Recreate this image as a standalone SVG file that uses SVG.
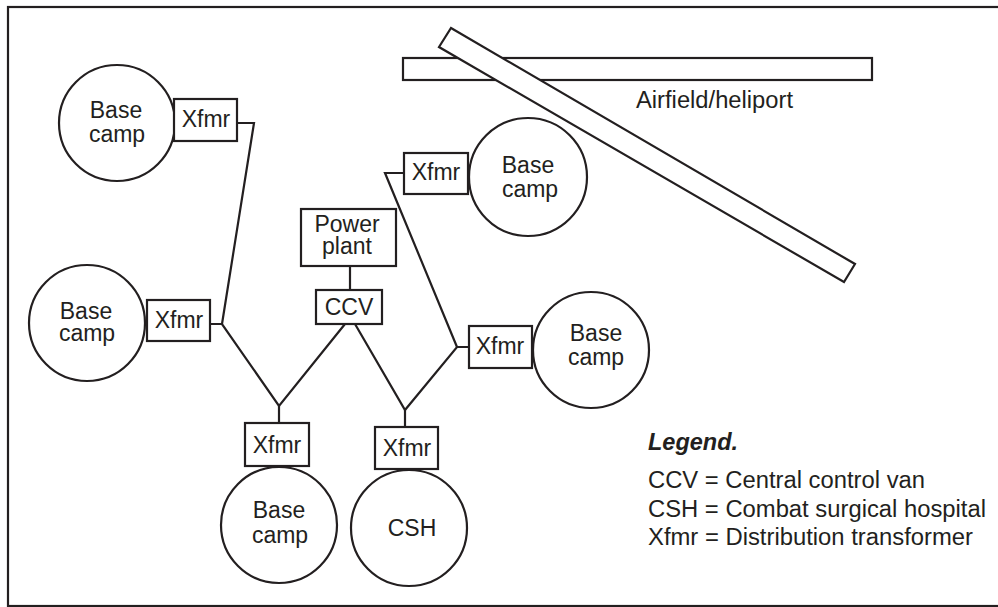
<svg xmlns="http://www.w3.org/2000/svg" width="998" height="607" viewBox="0 0 998 607">
  <style>
    .shape { fill: #ffffff; stroke: #231f20; stroke-width: 2.2; }
    .wire { fill: none; stroke: #231f20; stroke-width: 2.2; stroke-linejoin: miter; }
    text { font-family: "Liberation Sans", Arial, Helvetica, sans-serif; font-size: 23px; fill: #231f20; }
    .mid { text-anchor: middle; }
    .legend-title { font-weight: bold; font-style: italic; }
  </style>

  <rect width="998" height="607" fill="#ffffff"/>
  <!-- outer frame (right side runs off the page) -->
  <rect x="8" y="7" width="1000" height="599" fill="none" stroke="#231f20" stroke-width="2.2"/>

  <!-- runways -->
  <g id="airfield">
    <rect class="shape" x="403" y="58" width="469" height="22"/>
    <polygon class="shape" points="451,28 855,264 844,282 439,47"/>
    <text x="636" y="108" textLength="157" lengthAdjust="spacingAndGlyphs">Airfield/heliport</text>
  </g>

  <!-- distribution lines -->
  <g id="connectors">
    <polyline class="wire" points="237,123 254,123 222,324"/>
    <polyline class="wire" points="210,324 222,324 279,406 345,324"/>
    <line class="wire" x1="279" y1="406" x2="279" y2="423"/>
    <line class="wire" x1="350" y1="266" x2="350" y2="290"/>
    <polyline class="wire" points="355,324 405,410 457,347 469,347"/>
    <line class="wire" x1="405" y1="410" x2="405" y2="427"/>
    <polyline class="wire" points="404,173 385,173 457,347"/>
  </g>

  <g id="power-plant">
    <rect class="shape" x="301" y="209" width="95" height="57"/>
    <text class="mid"><tspan x="347" y="232">Power</tspan><tspan x="347" y="254">plant</tspan></text>
  </g>

  <g id="ccv">
    <rect class="shape" x="316" y="290" width="66" height="34"/>
    <text class="mid" x="349" y="315">CCV</text>
  </g>

  <!-- upper-left camp -->
  <g id="camp-upper-left">
    <circle class="shape" cx="117" cy="123" r="58"/>
    <text class="mid"><tspan x="116" y="118">Base</tspan><tspan x="117" y="142">camp</tspan></text>
  </g>
  <g id="xfmr-upper-left">
    <rect class="shape" x="174" y="99" width="63" height="42"/>
    <text class="mid" x="206" y="127">Xfmr</text>
  </g>

  <!-- left camp -->
  <g id="camp-left">
    <circle class="shape" cx="87" cy="323" r="58"/>
    <text class="mid"><tspan x="86" y="319">Base</tspan><tspan x="87" y="341">camp</tspan></text>
  </g>
  <g id="xfmr-left">
    <rect class="shape" x="147" y="300" width="63" height="41"/>
    <text class="mid" x="179" y="328">Xfmr</text>
  </g>

  <!-- lower camp -->
  <g id="xfmr-lower">
    <rect class="shape" x="245" y="423" width="64" height="43"/>
    <text class="mid" x="277" y="453">Xfmr</text>
  </g>
  <g id="camp-lower">
    <circle class="shape" cx="279" cy="525" r="58"/>
    <text class="mid"><tspan x="279" y="518">Base</tspan><tspan x="280" y="543">camp</tspan></text>
  </g>

  <!-- hospital -->
  <g id="xfmr-csh">
    <rect class="shape" x="375" y="427" width="63" height="42"/>
    <text class="mid" x="407" y="456">Xfmr</text>
  </g>
  <g id="csh">
    <circle class="shape" cx="409" cy="528" r="58"/>
    <text class="mid" x="412" y="536">CSH</text>
  </g>

  <!-- upper-right camp -->
  <g id="xfmr-upper-right">
    <rect class="shape" x="404" y="153" width="64" height="41"/>
    <text class="mid" x="436" y="180">Xfmr</text>
  </g>
  <g id="camp-upper-right">
    <circle class="shape" cx="528" cy="177" r="59"/>
    <text class="mid"><tspan x="528" y="173">Base</tspan><tspan x="530" y="197">camp</tspan></text>
  </g>

  <!-- right camp -->
  <g id="xfmr-right">
    <rect class="shape" x="469" y="326" width="63" height="42"/>
    <text class="mid" x="500" y="354">Xfmr</text>
  </g>
  <g id="camp-right">
    <circle class="shape" cx="591" cy="350" r="58"/>
    <text class="mid"><tspan x="596" y="341">Base</tspan><tspan x="596" y="365">camp</tspan></text>
  </g>

  <g id="legend">
    <text class="legend-title" x="648" y="450" textLength="90" lengthAdjust="spacingAndGlyphs">Legend.</text>
    <text x="648" y="488" textLength="277" lengthAdjust="spacingAndGlyphs">CCV = Central control van</text>
    <text x="648" y="517" textLength="338" lengthAdjust="spacingAndGlyphs">CSH = Combat surgical hospital</text>
    <text x="648" y="545" textLength="325" lengthAdjust="spacingAndGlyphs">Xfmr = Distribution transformer</text>
  </g>
</svg>
